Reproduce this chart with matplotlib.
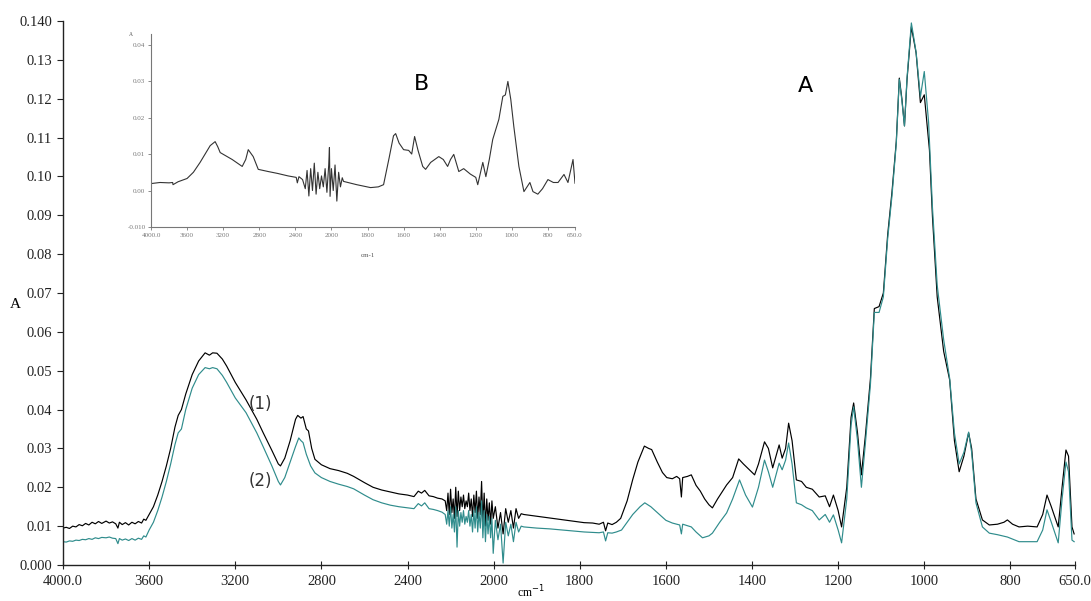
import numpy as np
import matplotlib
matplotlib.use("Agg")
import matplotlib.pyplot as plt

# ---- spectrum (1) ----
wn_1 = [4000, 3985, 3970, 3955, 3940, 3925, 3910, 3895, 3880, 3865, 3850, 3835, 3820, 3800, 3785,
        3770, 3755, 3745, 3738, 3725, 3710, 3695, 3680, 3665, 3650, 3635, 3625, 3615, 3600, 3580,
        3560, 3540, 3520, 3500, 3480, 3465, 3450, 3430, 3400, 3370, 3340, 3320, 3305, 3285, 3260,
        3240, 3200, 3150, 3100, 3070, 3030, 3000, 2990, 2970, 2945, 2920, 2910, 2895, 2885, 2870,
        2860, 2845, 2830, 2800, 2760, 2720, 2680, 2650, 2600, 2560, 2520, 2480, 2440, 2400, 2370,
        2350, 2335, 2320, 2300, 2280, 2260, 2240,
        2225, 2218, 2212, 2206, 2200, 2194, 2188, 2182, 2176, 2170, 2164, 2158, 2152, 2146, 2140,
        2134, 2128, 2122, 2116, 2110, 2104, 2098, 2092, 2086, 2080, 2074, 2068, 2062, 2056, 2050,
        2044, 2038, 2032, 2026, 2020, 2014, 2008, 2002, 1996, 1990, 1984, 1978, 1972, 1966, 1960,
        1954, 1948, 1942, 1936,
        1930, 1910, 1890, 1870, 1850, 1830, 1810, 1790, 1770, 1755, 1745, 1740, 1735, 1725, 1715,
        1705, 1690, 1677, 1665, 1650, 1640, 1633, 1620, 1608, 1598, 1585, 1575, 1568, 1564, 1561,
        1550, 1541, 1530, 1520, 1510, 1500, 1492, 1480, 1459, 1445, 1431, 1420, 1394, 1385, 1371,
        1362, 1352, 1337, 1330, 1322, 1315, 1307, 1297, 1285, 1274, 1260, 1244, 1230, 1220, 1211,
        1200, 1192, 1180, 1170, 1164, 1155, 1146, 1137, 1125, 1116, 1105, 1095, 1085, 1075, 1065,
        1058, 1052, 1046, 1040, 1030, 1019, 1009, 1000, 988, 981, 970, 955, 941, 930, 919,
        908, 897, 890, 880, 865, 849, 830, 815, 807, 795, 780, 760, 738, 725, 715,
        705, 689, 680, 671, 665, 657, 652]
abs_1 = [0.0095, 0.0097, 0.0094, 0.0100, 0.0098, 0.0104, 0.0101, 0.0107, 0.0103, 0.0110, 0.0106, 0.0112, 0.0107, 0.0113, 0.0108,
         0.0111, 0.0106, 0.0095, 0.0110, 0.0104, 0.0109, 0.0103, 0.0110, 0.0106, 0.0112, 0.0108, 0.0118, 0.0115, 0.0130, 0.0150,
         0.0180, 0.0215, 0.0255, 0.0300, 0.0355, 0.0385, 0.0400, 0.0440, 0.0490, 0.0525, 0.0546, 0.0540, 0.0546, 0.0545, 0.0530,
         0.0512, 0.0470, 0.0425, 0.0375, 0.0340, 0.0295, 0.0260, 0.0255, 0.0275, 0.0320, 0.0375, 0.0385, 0.0378, 0.0382, 0.0350,
         0.0345, 0.0300, 0.0272, 0.0258, 0.0248, 0.0243, 0.0236, 0.0228, 0.0212, 0.0200, 0.0193, 0.0188, 0.0183, 0.0180, 0.0176,
         0.0190, 0.0185, 0.0192, 0.0178, 0.0176, 0.0172, 0.0170,
         0.0165, 0.0140, 0.0185, 0.0130, 0.0195, 0.0135, 0.0170, 0.0120, 0.0200, 0.0125, 0.0190, 0.0140, 0.0175, 0.0150, 0.0180,
         0.0145, 0.0165, 0.0150, 0.0185, 0.0140, 0.0170, 0.0125, 0.0180, 0.0135, 0.0190, 0.0120, 0.0175, 0.0130, 0.0215, 0.0110,
         0.0185, 0.0100, 0.0170, 0.0115, 0.0160, 0.0105, 0.0165, 0.0120, 0.0150, 0.0095, 0.0135, 0.0080, 0.0145, 0.0110, 0.0140,
         0.0095, 0.0145, 0.0120, 0.0132,
         0.0130, 0.0127, 0.0124, 0.0121, 0.0118, 0.0115, 0.0112, 0.0109, 0.0108, 0.0105, 0.0110, 0.0088, 0.0108, 0.0104, 0.0110,
         0.0120, 0.0165, 0.0220, 0.0265, 0.0306, 0.0300, 0.0297, 0.0265, 0.0238, 0.0225, 0.0222, 0.0228, 0.0222, 0.0175, 0.0225,
         0.0228, 0.0232, 0.0205, 0.0190, 0.0170, 0.0155, 0.0147, 0.0170, 0.0206, 0.0225, 0.0273, 0.0260, 0.0232, 0.0260, 0.0317,
         0.0300, 0.0250, 0.0309, 0.0275, 0.0300, 0.0365, 0.0320, 0.0219, 0.0215, 0.0200, 0.0195, 0.0175, 0.0178, 0.0150, 0.0180,
         0.0140, 0.0098, 0.0200, 0.0380, 0.0417, 0.0340, 0.0232, 0.0330, 0.0480, 0.0660, 0.0665, 0.0700, 0.0850, 0.0960, 0.1090,
         0.1253, 0.1200, 0.1130, 0.1250, 0.1385, 0.1318, 0.1190, 0.1210, 0.1068, 0.0896, 0.0690, 0.0550, 0.0476, 0.0320, 0.0240,
         0.0280, 0.0340, 0.0300, 0.0170, 0.0116, 0.0103, 0.0105, 0.0110, 0.0116, 0.0105, 0.0098, 0.0100, 0.0098, 0.0130, 0.0180,
         0.0150, 0.0098, 0.0200, 0.0296, 0.0280, 0.0098, 0.0080]

# ---- spectrum (2) ----
wn_2 = [4000, 3985, 3970, 3955, 3940, 3925, 3910, 3895, 3880, 3865, 3850, 3835, 3820, 3800, 3785,
        3770, 3755, 3745, 3738, 3725, 3710, 3695, 3680, 3665, 3650, 3635, 3625, 3615, 3600, 3580,
        3560, 3540, 3520, 3500, 3480, 3465, 3450, 3430, 3400, 3370, 3340, 3320, 3305, 3285, 3260,
        3240, 3200, 3150, 3100, 3070, 3030, 3000, 2990, 2970, 2945, 2920, 2905, 2895, 2885, 2870,
        2850, 2830, 2800, 2760, 2720, 2680, 2650, 2600, 2560, 2520, 2480, 2440, 2400, 2370, 2350,
        2335, 2320, 2300, 2280, 2260, 2240,
        2225, 2218, 2212, 2206, 2200, 2194, 2188, 2182, 2176, 2170, 2164, 2158, 2152, 2146, 2140,
        2134, 2128, 2122, 2116, 2110, 2104, 2098, 2092, 2086, 2080, 2074, 2068, 2062, 2056, 2050,
        2044, 2038, 2032, 2026, 2020, 2014, 2008, 2002, 1996, 1990, 1984, 1978, 1972, 1966, 1960,
        1954, 1948, 1942, 1936,
        1930, 1900, 1870, 1840, 1810, 1790, 1770, 1755, 1745, 1740, 1735, 1725, 1715, 1703, 1690,
        1677, 1660, 1649, 1635, 1620, 1600, 1585, 1568, 1564, 1561, 1541, 1530, 1515, 1500, 1492,
        1475, 1459, 1445, 1429, 1415, 1399, 1385, 1371, 1362, 1352, 1337, 1330, 1322, 1315, 1307,
        1297, 1285, 1274, 1260, 1244, 1230, 1220, 1211, 1200, 1192, 1180, 1170, 1164, 1155, 1146,
        1137, 1125, 1116, 1105, 1095, 1085, 1075, 1065, 1058, 1052, 1046, 1040, 1030, 1019, 1009,
        1000, 990, 981, 970, 955, 941, 930, 919, 908, 897, 890, 880, 865, 849, 830,
        807, 780, 738, 725, 715, 705, 689, 680, 671, 665, 657, 652]
abs_2 = [0.0060, 0.0059, 0.0062, 0.0061, 0.0064, 0.0063, 0.0066, 0.0065, 0.0068, 0.0066, 0.0070, 0.0068, 0.0071, 0.0070, 0.0072,
         0.0069, 0.0068, 0.0055, 0.0068, 0.0064, 0.0067, 0.0063, 0.0068, 0.0064, 0.0069, 0.0066, 0.0075, 0.0072, 0.0090, 0.0110,
         0.0140, 0.0175, 0.0215, 0.0260, 0.0310, 0.0340, 0.0350, 0.0400, 0.0455, 0.0490, 0.0508, 0.0505, 0.0508, 0.0505, 0.0488,
         0.0470, 0.0430, 0.0392, 0.0340, 0.0304, 0.0255, 0.0215, 0.0206, 0.0225, 0.0265, 0.0305, 0.0327, 0.0320, 0.0315, 0.0285,
         0.0255, 0.0237, 0.0225, 0.0215, 0.0208, 0.0202, 0.0196, 0.0180, 0.0168, 0.0160, 0.0154, 0.0150, 0.0147, 0.0145, 0.0158,
         0.0152, 0.0160, 0.0145, 0.0143, 0.0140, 0.0136,
         0.0130, 0.0105, 0.0140, 0.0100, 0.0150, 0.0095, 0.0130, 0.0085, 0.0150, 0.0046, 0.0140, 0.0100, 0.0135, 0.0110, 0.0140,
         0.0105, 0.0125, 0.0110, 0.0140, 0.0100, 0.0130, 0.0085, 0.0140, 0.0095, 0.0150, 0.0085, 0.0135, 0.0095, 0.0165, 0.0070,
         0.0140, 0.0060, 0.0130, 0.0080, 0.0125, 0.0070, 0.0120, 0.0030, 0.0115, 0.0065, 0.0105, 0.0005, 0.0110, 0.0075, 0.0105,
         0.0060, 0.0110, 0.0085, 0.0100,
         0.0098, 0.0095, 0.0093, 0.0090, 0.0087, 0.0085, 0.0084, 0.0083, 0.0085, 0.0062, 0.0083, 0.0082, 0.0085, 0.0090, 0.0110,
         0.0130, 0.0150, 0.0160, 0.0150, 0.0135, 0.0115, 0.0108, 0.0103, 0.0080, 0.0105, 0.0098, 0.0085, 0.0070, 0.0075, 0.0082,
         0.0110, 0.0134, 0.0170, 0.0219, 0.0180, 0.0149, 0.0200, 0.0270, 0.0240, 0.0200, 0.0262, 0.0245, 0.0270, 0.0314, 0.0260,
         0.0160, 0.0155, 0.0147, 0.0140, 0.0116, 0.0130, 0.0110, 0.0129, 0.0090, 0.0057, 0.0170, 0.0360, 0.0407, 0.0320, 0.0200,
         0.0310, 0.0465, 0.0650, 0.0650, 0.0690, 0.0840, 0.0950, 0.1085, 0.1250, 0.1195, 0.1130, 0.1255, 0.1395, 0.1320, 0.1205,
         0.1270, 0.1140, 0.0920, 0.0720, 0.0580, 0.0480, 0.0340, 0.0260, 0.0290, 0.0342, 0.0290, 0.0160, 0.0098, 0.0082, 0.0078,
         0.0072, 0.0060, 0.0060, 0.0090, 0.0142, 0.0110, 0.0057, 0.0170, 0.0265, 0.0240, 0.0064, 0.0060]

# ---- difference spectrum (inset B) ----
wn_B = [4000, 3900, 3800, 3760, 3756, 3700, 3600, 3530, 3456, 3400, 3344, 3289, 3260, 3233, 3100,
        2989, 2950, 2922, 2867, 2811, 2700, 2600, 2480, 2390, 2378, 2360,
        2320, 2290, 2270, 2250, 2230, 2210, 2190, 2170, 2150, 2130, 2110, 2090, 2070, 2050, 2030,
        2022, 2015, 2000, 1990, 1980, 1970, 1960, 1950, 1940,
        1933, 1860, 1783, 1740, 1711, 1680, 1656, 1644, 1625, 1600, 1572, 1555, 1539, 1520, 1494,
        1478, 1450, 1405, 1380, 1356, 1340, 1322, 1294, 1267, 1230, 1200, 1189, 1161, 1144, 1125,
        1106, 1072, 1050, 1036, 1022, 1006, 989, 961, 933, 900, 883, 856, 830, 800, 770,
        744, 711, 689, 661, 650]
abs_B = [0.0019, 0.0022, 0.0021, 0.0022, 0.0016, 0.0024, 0.0033, 0.0050, 0.0077, 0.0100, 0.0123, 0.0134, 0.0120, 0.0104, 0.0085,
         0.0066, 0.0085, 0.0112, 0.0093, 0.0058, 0.0052, 0.0047, 0.0040, 0.0036, 0.0021, 0.0038,
         0.0030, 0.0005, 0.0055, -0.0015, 0.0060, 0.0000, 0.0075, -0.0010, 0.0050, 0.0005, 0.0040, 0.0010, 0.0060, -0.0005, 0.0070,
         0.0118, -0.0016, 0.0060, 0.0000, 0.0070, -0.0029, 0.0050, 0.0010, 0.0035,
         0.0025, 0.0016, 0.0008, 0.0010, 0.0016, 0.0090, 0.0150, 0.0156, 0.0130, 0.0112, 0.0110, 0.0100, 0.0148, 0.0110, 0.0066,
         0.0058, 0.0077, 0.0093, 0.0085, 0.0066, 0.0085, 0.0099, 0.0052, 0.0060, 0.0045, 0.0036, 0.0016, 0.0077, 0.0038, 0.0085,
         0.0140, 0.0195, 0.0258, 0.0262, 0.0299, 0.0250, 0.0175, 0.0066, -0.0003, 0.0022, -0.0003, -0.0010, 0.0005, 0.0030, 0.0022,
         0.0022, 0.0044, 0.0022, 0.0085, 0.0020]

x_ticks = [4000, 3600, 3200, 2800, 2400, 2000, 1800, 1600, 1400, 1200, 1000, 800, 650]
x_tick_labels = ["4000.0", "3600", "3200", "2800", "2400", "2000", "1800", "1600",
                 "1400", "1200", "1000", "800", "650.0"]
y_ticks = [0.0, 0.01, 0.02, 0.03, 0.04, 0.05, 0.06, 0.07, 0.08, 0.09, 0.10, 0.11, 0.12, 0.13, 0.14]
y_tick_labels = ["0.000", "0.01", "0.02", "0.03", "0.04", "0.05", "0.06", "0.07", "0.08",
                 "0.09", "0.10", "0.11", "0.12", "0.13", "0.140"]
inset_y_ticks = [-0.01, 0.0, 0.01, 0.02, 0.03, 0.04]
inset_y_labels = ["-0.010", "0.00", "0.01", "0.02", "0.03", "0.04"]


# wavenumber axis expanded x2 below 2000 cm-1
def fwd(w):
    w = np.asarray(w, dtype=float)
    return np.where(w >= 2000, w, 2 * w - 2000)


def inv(p):
    p = np.asarray(p, dtype=float)
    return np.where(p >= 2000, p, (p + 2000) / 2)


SERIF = "Liberation Serif"
TEAL = "#2f8c8c"

fig = plt.figure(figsize=(10.91, 6.01), dpi=100)
ax = fig.add_axes([63 / 1091, 36 / 601, 1012 / 1091, 544 / 601])
ax.set_xscale("function", functions=(fwd, inv))
ax.plot(wn_1, abs_1, color="black", lw=0.85)
ax.plot(wn_2, abs_2, color=TEAL, lw=0.85)
ax.set_xlim(4000, 650)
ax.set_ylim(0, 0.14)
ax.set_xticks(x_ticks)
ax.set_xticklabels(x_tick_labels, fontfamily=SERIF, fontsize=10.5)
ax.set_yticks(y_ticks)
ax.set_yticklabels(y_tick_labels, fontfamily=SERIF, fontsize=10.5)
ax.minorticks_off()
for s in ("top", "right"):
    ax.spines[s].set_visible(False)
for s in ("left", "bottom"):
    ax.spines[s].set_linewidth(1.0)
    ax.spines[s].set_color("#222222")
ax.tick_params(axis="x", direction="inout", length=6, width=0.8, pad=4, colors="#222222")
ax.tick_params(axis="y", direction="out", length=4, width=0.8, pad=4, colors="#222222")
fig.text(15 / 1091, 1 - 305 / 601, "A", fontfamily=SERIF, fontsize=11, ha="center", va="center")
fig.text(531 / 1091, 1 / 601, "cm$^{-1}$", fontfamily=SERIF, fontsize=8.5, ha="center", va="bottom")

ax.text(260 / 1091, 1 - 404 / 601, "(1)", transform=fig.transFigure, fontsize=12,
        color="#333333", ha="center", va="center")
ax.text(260 / 1091, 1 - 481 / 601, "(2)", transform=fig.transFigure, fontsize=12,
        color="#333333", ha="center", va="center")
fig.text(421 / 1091, 1 - 84 / 601, "B", fontsize=16, ha="center", va="center")
fig.text(805 / 1091, 1 - 86 / 601, "A", fontsize=16, ha="center", va="center")

# inset: difference spectrum
ins = fig.add_axes([151 / 1091, 1 - 227 / 601, 424 / 1091, 193 / 601])
ins.set_xscale("function", functions=(fwd, inv))
ins.plot(wn_B, abs_B, color="#333333", lw=0.8)
ins.set_xlim(4000, 650)
ins.set_ylim(-0.010, 0.0429)
ins.set_xticks(x_ticks)
ins.set_xticklabels(x_tick_labels, fontfamily=SERIF, fontsize=5, color="#555555")
ins.set_yticks(inset_y_ticks)
ins.set_yticklabels(inset_y_labels, fontfamily=SERIF, fontsize=5, color="#555555")
ins.minorticks_off()
ins.patch.set_alpha(0)
for s in ("top", "right"):
    ins.spines[s].set_visible(False)
for s in ("left", "bottom"):
    ins.spines[s].set_linewidth(0.8)
    ins.spines[s].set_color("#777777")
ins.tick_params(direction="out", length=2, width=0.6, pad=2, colors="#777777")
fig.text(368 / 1091, 1 - 255 / 601, "cm-1", fontfamily=SERIF, fontsize=5, color="#555555",
         ha="center", va="center")
fig.text(131 / 1091, 1 - 35 / 601, "A", fontfamily=SERIF, fontsize=4, color="#555555",
         ha="center", va="center")

fig.savefig("out.png", dpi=100)
